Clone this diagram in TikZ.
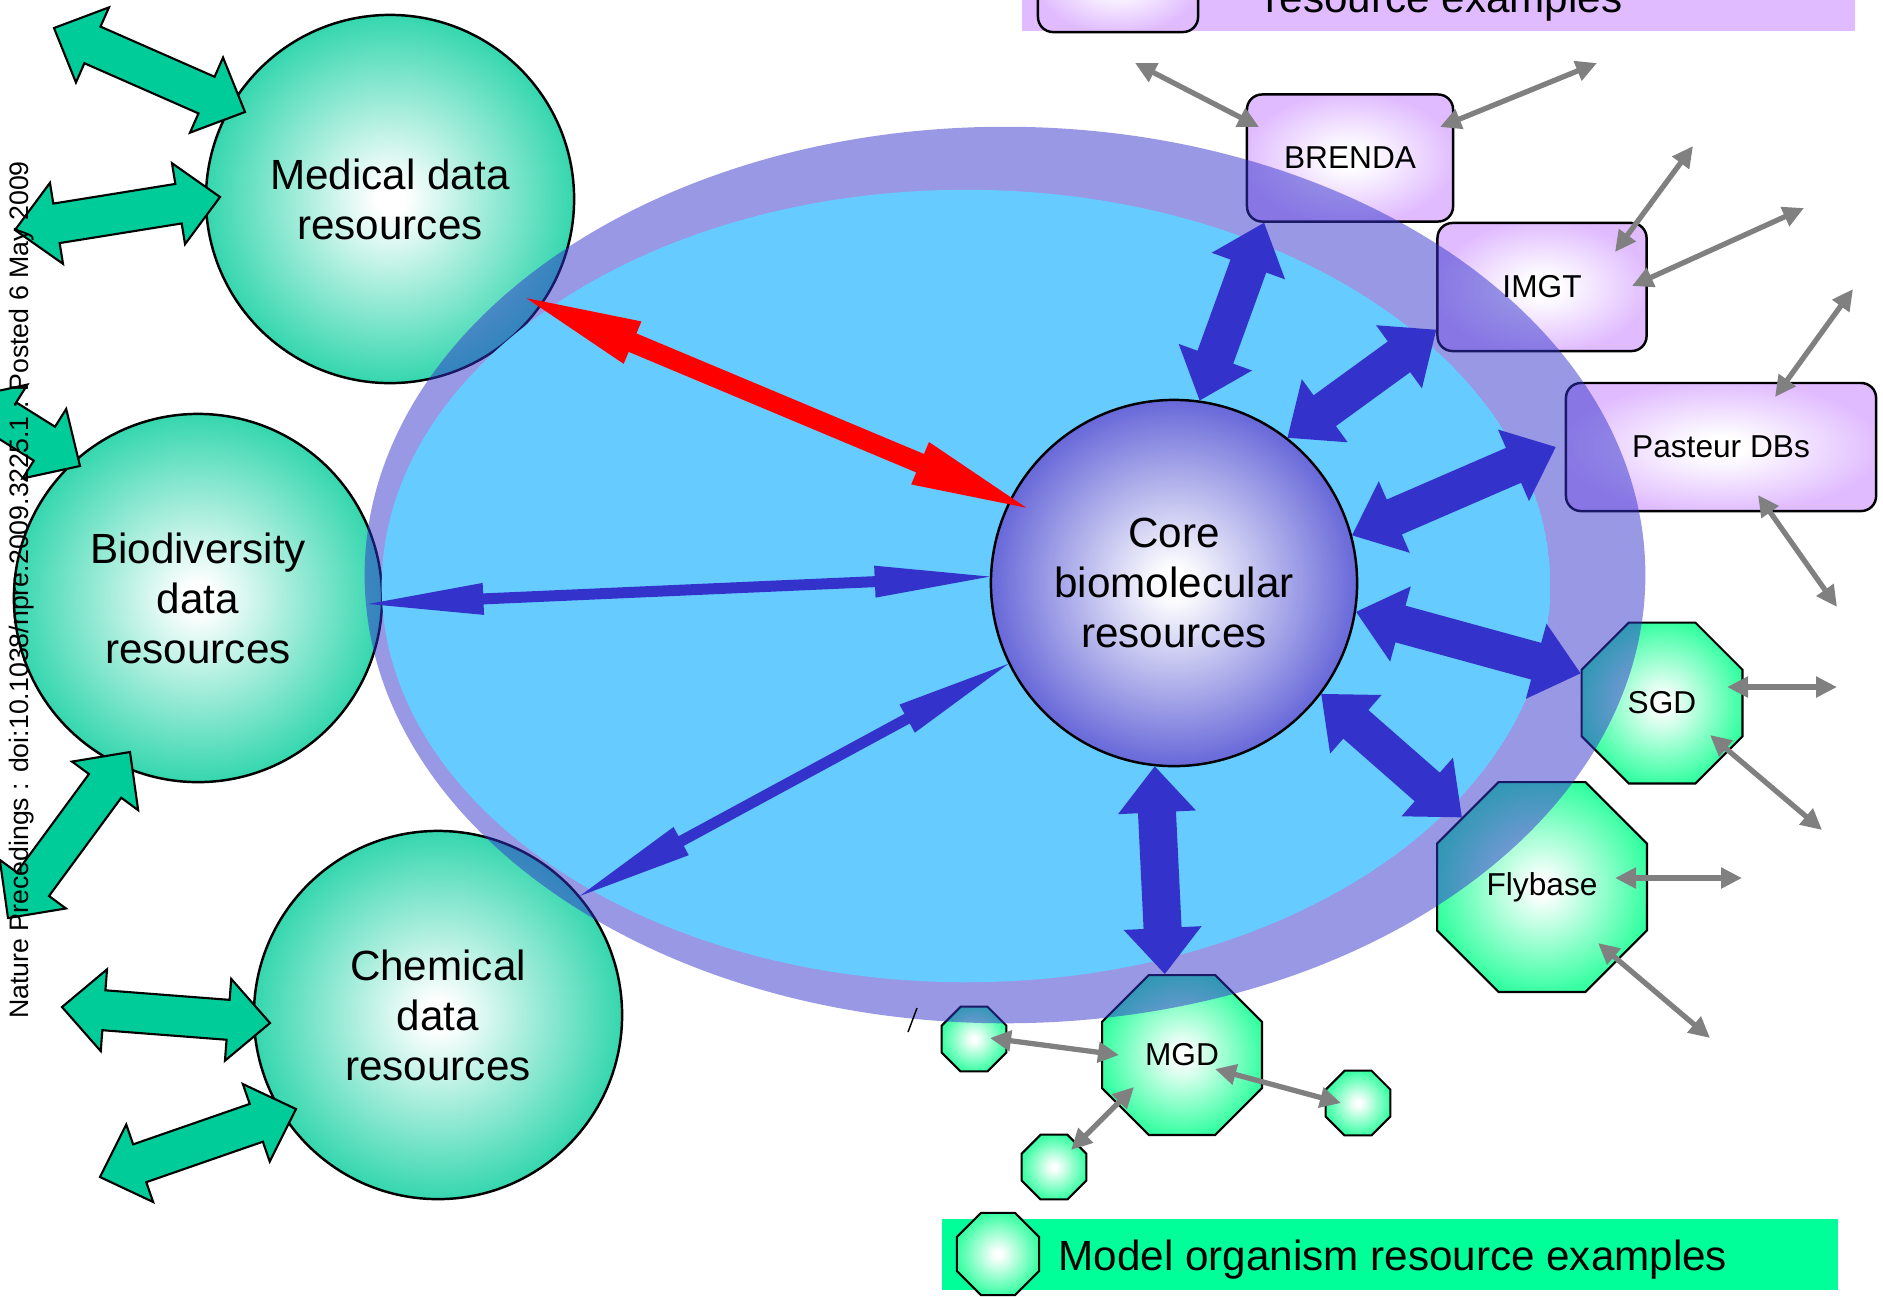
\documentclass[tikz,border=0pt]{standalone}
\usepackage{fontspec}
\setmainfont{Liberation Sans}
\usetikzlibrary{shapes.geometric,arrows.meta,calc}

\definecolor{circgreen}{RGB}{0,204,153}
\definecolor{octgreen}{RGB}{40,255,155}
\definecolor{bandgreen}{RGB}{0,255,153}
\definecolor{lilac}{RGB}{224,187,255}
\definecolor{coreblue}{RGB}{51,51,204}
\definecolor{lakeblue}{RGB}{102,204,255}
\definecolor{linkgrey}{RGB}{128,128,128}

\pgfdeclareradialshading{greenball}{\pgfpoint{0bp}{0bp}}{color(0bp)=(white); color(2bp)=(white); color(31bp)=(circgreen); color(50bp)=(circgreen)}
\pgfdeclareradialshading{coreglow}{\pgfpoint{0bp}{0bp}}{color(0bp)=(white); color(2bp)=(white); color(33bp)=(coreblue); color(50bp)=(coreblue)}
\pgfdeclareradialshading{octglow}{\pgfpoint{0bp}{0bp}}{color(0bp)=(white); color(2bp)=(white); color(27bp)=(octgreen); color(50bp)=(octgreen)}
\pgfdeclareradialshading{lilacglow}{\pgfpoint{0bp}{0bp}}{color(0bp)=(white); color(4bp)=(white); color(26bp)=(lilac); color(50bp)=(lilac)}

% block arrow with two heads: style, from, to, half shaft, half head, head length
\newcommand{\fatarrow}[6]{%
  \path[#1] (#2) -- ($(#2)!#6!(#3)!#5!90:(#3)$) -- ($(#2)!#6!(#3)!#4!90:(#3)$)
    -- ($(#3)!#6!(#2)!#4!-90:(#2)$) -- ($(#3)!#6!(#2)!#5!-90:(#2)$) -- (#3)
    -- ($(#3)!#6!(#2)!#5!90:(#2)$) -- ($(#3)!#6!(#2)!#4!90:(#2)$)
    -- ($(#2)!#6!(#3)!#4!-90:(#3)$) -- ($(#2)!#6!(#3)!#5!-90:(#3)$) -- cycle;}

\begin{document}
\begin{tikzpicture}[
    x = 0.01cm, y = -0.01cm,
    disc/.style = {
      circle, draw = black, line width = 0.7pt,
      minimum size = 3.68cm, inner sep = 0pt,
      shade, shading = greenball
    },
    coredisc/.style = {
      circle, draw = black, line width = 0.7pt,
      minimum size = 3.66cm, inner sep = 0pt,
      shade, shading = coreglow,
      font = \fontsize{12}{14.2}\selectfont, align = center
    },
    dbbox/.style = {
      rectangle, rounded corners = 0.15cm, draw = black, line width = 0.7pt,
      inner sep = 0pt, shade, shading = lilacglow
    },
    octo/.style = {
      regular polygon, regular polygon sides = 8, draw = black,
      line width = 0.6pt, inner sep = 0pt, shade, shading = octglow
    },
    bigtext/.style = {font = \fontsize{12}{14.2}\selectfont, align = center, inner sep = 0pt},
    smalltext/.style = {font = \fontsize{9}{11}\selectfont, inner sep = 0pt},
    link/.style = {
      draw = linkgrey, line width = 1.5pt,
      {Triangle[length = 0.21cm, width = 0.2cm]}-{Triangle[length = 0.21cm, width = 0.2cm]}
    },
    fatblue/.style = {fill = coreblue},
    fatgreen/.style = {fill = circgreen, draw = black, line width = 0.6pt},
    thinred/.style = {fill = red},
    thinblue/.style = {fill = coreblue}
  ]
    \useasboundingbox (0,0) rectangle (1883,1296);
    \clip (0,0) rectangle (1883,1296);
    \fill[white] (0,0) rectangle (1883,1296);

    % legends
    \fill[lilac] (1022,-60) rectangle (1855,31);
    \node[dbbox, minimum width = 1.6cm, minimum height = 1.0cm] (topkey) at (1118,-18) {};
    \node[bigtext, anchor = base west] (toplabel) at (1265,12) {resource examples};
    \fill[bandgreen] (942,1219) rectangle (1838,1290);
    \node[octo, minimum size = 0.89cm] (keyocto) at (998,1254) {};
    \node[bigtext, anchor = base west] (keylabel) at (1058,1270) {Model organism resource examples};

    % outer data resources
    \node[disc] (med) at (390,199) {};
    \node[disc] (bio) at (198,598) {};
    \node[disc] (chem) at (438,1015) {};

    % biomolecular and model organism resources
    \node[dbbox, minimum width = 2.06cm, minimum height = 1.27cm] (brenda) at (1350,158) {};
    \node[dbbox, minimum width = 2.09cm, minimum height = 1.28cm] (imgt) at (1542,287) {};
    \node[dbbox, minimum width = 3.10cm, minimum height = 1.28cm] (pasteur) at (1721,447) {};
    \node[octo, minimum size = 1.74cm] (sgd) at (1662,703) {};
    \node[octo, minimum size = 2.27cm] (flybase) at (1542,887) {};
    \node[octo, minimum size = 1.73cm] (mgd) at (1182,1055) {};
    \node[octo, minimum size = 0.70cm] (mo1) at (974,1039) {};
    \node[octo, minimum size = 0.70cm] (mo2) at (1054,1167) {};
    \node[octo, minimum size = 0.70cm] (mo3) at (1358,1103) {};

    % the two ellipses
    \fill[coreblue, fill opacity = 0.5] (1005,575) ellipse [x radius = 6.40cm, y radius = 4.48cm];
    \begin{scope}
      \clip (966,586) ellipse [x radius = 5.84cm, y radius = 3.96cm];
      \fill[lakeblue, even odd rule] (966,586) ellipse [x radius = 5.84cm, y radius = 3.96cm]
        (med.center) circle [radius = 1.84cm]
        (bio.center) circle [radius = 1.84cm]
        (chem.center) circle [radius = 1.84cm]
        (imgt.south west) rectangle (imgt.north east)
        (flybase.corner 1) -- (flybase.corner 2) -- (flybase.corner 3) -- (flybase.corner 4)
          -- (flybase.corner 5) -- (flybase.corner 6) -- (flybase.corner 7) -- (flybase.corner 8) -- cycle
        (mgd.corner 1) -- (mgd.corner 2) -- (mgd.corner 3) -- (mgd.corner 4)
          -- (mgd.corner 5) -- (mgd.corner 6) -- (mgd.corner 7) -- (mgd.corner 8) -- cycle;
    \end{scope}

    \node[coredisc] (core) at (1174,583) {Core\\biomolecular\\resources};

    % labels
    \node[bigtext] (med-lbl) at (med) {Medical data\\resources};
    \node[bigtext] (bio-lbl) at (bio) {Biodiversity\\data\\resources};
    \node[bigtext] (chem-lbl) at (chem) {Chemical\\data\\resources};
    \node[smalltext] (brenda-lbl) at (brenda) {BRENDA};
    \node[smalltext] (imgt-lbl) at (imgt) {IMGT};
    \node[smalltext] (pasteur-lbl) at (pasteur) {Pasteur DBs};
    \node[smalltext] (sgd-lbl) at (sgd) {SGD};
    \node[smalltext] (flybase-lbl) at (flybase) {Flybase};
    \node[smalltext] (mgd-lbl) at (mgd) {MGD};

    % links to the core
    \coordinate (pasteur-in) at ([shift = {(-9,0)}]pasteur.west);
    \fatarrow{fatblue}{brenda.217}{core.82}{0.19cm}{0.39cm}{0.46cm}
    \fatarrow{fatblue}{imgt.202}{core.52}{0.19cm}{0.39cm}{0.46cm}
    \fatarrow{fatblue}{pasteur-in}{core.15}{0.19cm}{0.39cm}{0.46cm}
    \fatarrow{fatblue}{sgd.160}{core.-9}{0.19cm}{0.39cm}{0.46cm}
    \fatarrow{fatblue}{flybase.139}{core.-37}{0.19cm}{0.39cm}{0.46cm}
    \fatarrow{fatblue}{mgd.102}{core.264}{0.19cm}{0.39cm}{0.46cm}

    \coordinate (red-a) at ($(med.center)!0.91!(med.-36)$);
    \coordinate (red-b) at ($(core.center)!0.9!(core.153)$);
    \coordinate (bio-a) at ($(bio.center)!0.92!(bio.-2)$);
    \fatarrow{thinred}{red-a}{red-b}{0.1cm}{0.23cm}{1.15cm}
    \fatarrow{thinblue}{bio-a}{core.178}{0.055cm}{0.16cm}{1.15cm}
    \fatarrow{thinblue}{chem.40}{core.206}{0.055cm}{0.16cm}{1.15cm}

    % links to the outside world
    \coordinate (g1) at (54,28);
    \coordinate (g2) at (15,230);
    \coordinate (g3) at (-30,397);
    \coordinate (g4) at (8,918);
    \coordinate (g5) at (62,1007);
    \coordinate (g6) at (100,1177);
    \coordinate (g1-in) at ([shift = {(-145,-87)}]med.center);
    \coordinate (g2-in) at ([shift = {(-170,-2)}]med.center);
    \coordinate (g3-in) at ([shift = {(-118,-132)}]bio.center);
    \coordinate (g4-in) at ([shift = {(-68,154)}]bio.center);
    \coordinate (g5-in) at ([shift = {(-168,8)}]chem.center);
    \coordinate (g6-in) at ([shift = {(-142,94)}]chem.center);
    \foreach \idx in {1,...,6} {
      \fatarrow{fatgreen}{g\idx}{g\idx-in}{0.2cm}{0.41cm}{0.42cm}
    }

    % links between databases
    \coordinate (w1) at (1135,63);
    \coordinate (w2) at (1597,63);
    \coordinate (w3) at (1693,146);
    \coordinate (w4) at (1804,208);
    \coordinate (w5) at (1853,289);
    \coordinate (w6) at (1837,607);
    \coordinate (w7) at (1837,687);
    \coordinate (w8) at (1822,830);
    \coordinate (w9) at (1742,878);
    \coordinate (w10) at (1710,1038);
    \draw[link] ([shift = {(-91,-31)}]brenda.center) -- (w1);
    \draw[link] ([shift = {(90,-31)}]brenda.center) -- (w2);
    \draw[link] ([shift = {(73,-35)}]imgt.center) -- (w3);
    \draw[link] ([shift = {(90,-1)}]imgt.center) -- (w4);
    \draw[link] ([shift = {(54,-50)}]pasteur.center) -- (w5);
    \draw[link] ([shift = {(37,48)}]pasteur.center) -- (w6);
    \draw[link] ([shift = {(65,-16)}]sgd.center) -- (w7);
    \draw[link] ([shift = {(48,32)}]sgd.center) -- (w8);
    \draw[link] ([shift = {(73,-9)}]flybase.center) -- (w9);
    \draw[link] ([shift = {(56,56)}]flybase.center) -- (w10);
    \draw[link] ([shift = {(-63,0)}]mgd.center) -- ([shift = {(16,-1)}]mo1.center);
    \draw[link] ([shift = {(-48,32)}]mgd.center) -- ([shift = {(17,-17)}]mo2.center);
    \draw[link] ([shift = {(33,14)}]mgd.center) -- ([shift = {(-17,0)}]mo3.center);

    % stray mark and side stamp
    \coordinate (tick-a) at (917,1008);
    \coordinate (tick-b) at (908,1032);
    \draw[line width = 0.4pt] (tick-a) -- (tick-b);
    \node[rotate = 90, font = \fontsize{7.6}{9}\selectfont, inner sep = 0pt] (stamp) at (22,590)
      {Nature Precedings : doi:10.1038/npre.2009.3225.1 : Posted 6 May 2009};
  \end{tikzpicture}
\end{document}
